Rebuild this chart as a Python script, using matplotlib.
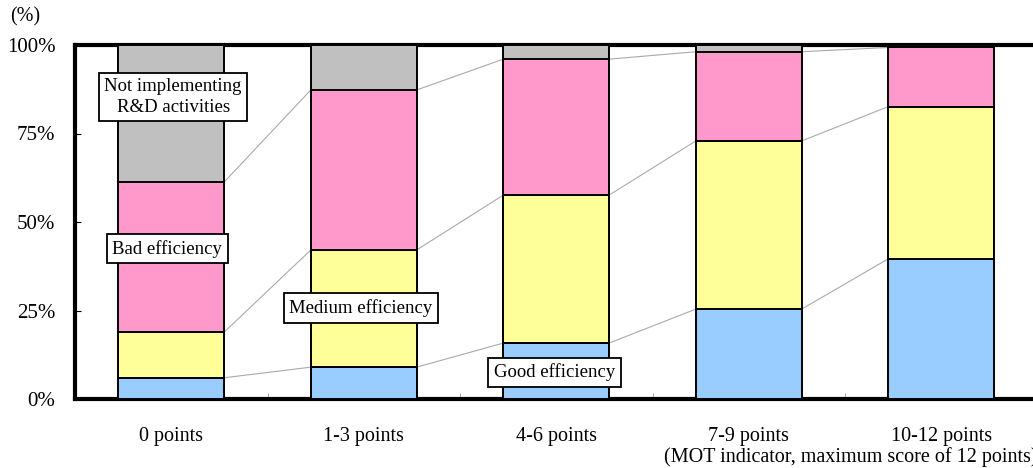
import matplotlib
matplotlib.use("Agg")
import matplotlib.pyplot as plt
import numpy as np

plt.rcParams['font.family'] = ['Liberation Serif', 'DejaVu Serif']

categories = ["0 points", "1-3 points", "4-6 points", "7-9 points", "10-12 points"]
good = [6.0, 9.0, 15.8, 25.4, 39.6]
medium = [12.9, 33.1, 41.8, 47.5, 43.0]
bad = [42.4, 45.2, 38.4, 25.2, 16.7]
not_impl = [38.7, 12.7, 4.0, 1.9, 0.7]

series = [good, medium, bad, not_impl]
colors = ["#99CCFF", "#FFFF99", "#FF99CC", "#C0C0C0"]

fig = plt.figure(figsize=(10.33, 4.68), dpi=100)
ax = fig.add_axes([75/1033, 1-399/468, (1037.5-75)/1033, (399-45)/468])

x = np.arange(len(categories))
width = 0.55
bottom = np.zeros(len(categories))
tops = []
for vals, c in zip(series, colors):
    vals = np.array(vals)
    ax.bar(x, vals, width, bottom=bottom, color=c, edgecolor='black', linewidth=1.4, zorder=3)
    bottom = bottom + vals
    tops.append(bottom.copy())

# connector lines
for t in tops[:3]:
    for i in range(len(categories)-1):
        ax.plot([x[i]+width/2, x[i+1]-width/2], [t[i], t[i+1]], color='#AAAAAA', lw=0.8, zorder=2)

ax.set_xlim(-0.5, 4.5)
ax.set_ylim(0, 100)
ax.set_yticks([0, 25, 50, 75, 100])
ax.set_yticklabels(["0%", "25%", "50%", "75%", "100%"], fontsize=15)
ax.set_xticks(x)
ax.set_xticklabels(categories, fontsize=14.5)
ax.tick_params(axis='x', length=0, pad=20)
ax.tick_params(axis='y', direction='in', length=4, pad=14)
ax.set_xticks(np.arange(0.5, 4.5, 1), minor=True)
ax.tick_params(axis='x', which='minor', direction='in', length=4, color='#999999')
for s in ax.spines.values():
    s.set_linewidth(3)
    s.set_color('black')

box = dict(boxstyle='square,pad=0.3', facecolor='white', edgecolor='black', linewidth=1.3)
fs = 13.5
ax.text(0.01, 85.3, "Not implementing\nR&D activities", ha='center', va='center', fontsize=fs, bbox=box, zorder=5, linespacing=1.25)
ax.text(-0.02, 42.4, "Bad efficiency", ha='center', va='center', fontsize=fs, bbox=box, zorder=5)
ax.text(0.986, 25.7, "Medium efficiency", ha='center', va='center', fontsize=fs, bbox=box, zorder=5)
ax.text(1.99, 7.6, "Good efficiency", ha='center', va='center', fontsize=fs, bbox=box, zorder=5)

fig.text(10/1033, 1-17/468, "(%)", ha='left', va='center', fontsize=14.5)
fig.text(1037/1033, 1-457/468, "(MOT indicator, maximum score of 12 points)", ha='right', va='center', fontsize=14.5)

fig.savefig("out.png", dpi=100)
